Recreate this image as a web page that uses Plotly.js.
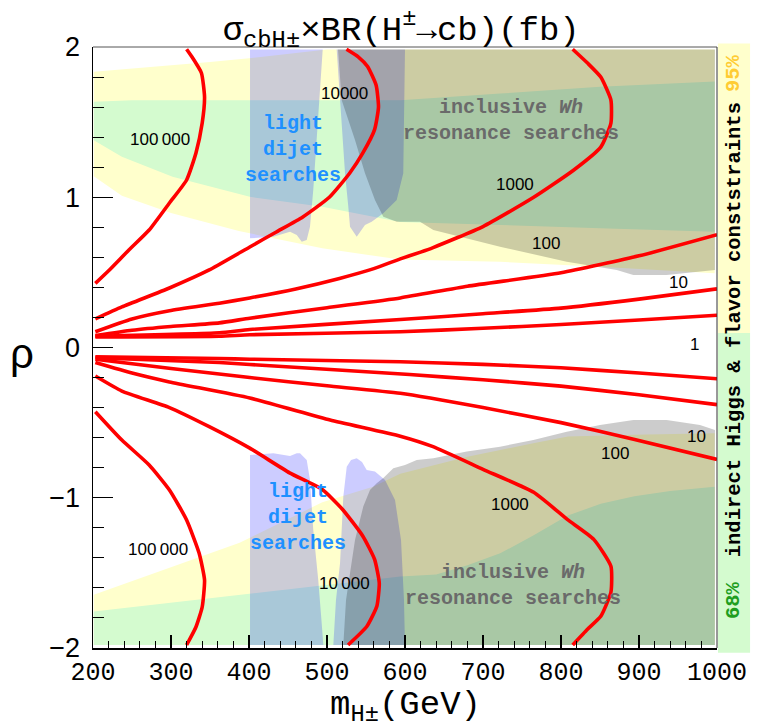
<!DOCTYPE html>
<html>
<head>
<meta charset="utf-8">
<script src="https://cdn.plot.ly/plotly-3.0.1.min.js"></script>
<style>
  html, body { margin: 0; padding: 0; background: #ffffff; }
  #chart { width: 757px; height: 727px; }
</style>
</head>
<body>
<div id="chart"></div>
<script>
// ---- Cross-section contours (fb) in the (m_H±, rho) plane ----
// upper half (rho > 0)
const m1e5Up = [203, 221, 246, 272, 298, 320, 332, 340, 343, 339, 327, 320];
const r1e5Up = [0.427, 0.516, 0.649, 0.782, 0.962, 1.115, 1.295, 1.494, 1.667, 1.827, 1.933, 1.985];
const m1e4Up = [203, 237, 298, 349, 401, 435, 469, 503, 529, 546, 561, 566, 563, 552, 540, 525];
const r1e4Up = [0.19, 0.27, 0.396, 0.516, 0.669, 0.769, 0.869, 1.0, 1.16, 1.295, 1.45, 1.6, 1.745, 1.87, 1.935, 1.985];
const m1e3Up = [203, 250, 298, 362, 401, 460, 516, 560, 594, 620, 636, 700, 765, 816, 851, 864, 864, 851, 834, 815];
const r1e3Up = [0.105, 0.19, 0.245, 0.295, 0.33, 0.39, 0.46, 0.525, 0.59, 0.635, 0.665, 0.805, 1.0, 1.18, 1.334, 1.494, 1.647, 1.8, 1.893, 1.985];
const m1e2Up = [203, 250, 300, 362, 401, 500, 594, 680, 800, 900, 1000];
const r1e2Up = [0.08, 0.115, 0.14, 0.164, 0.195, 0.265, 0.33, 0.408, 0.497, 0.61, 0.751];
const m1e1Up = [203, 362, 401, 594, 700, 800, 900, 1000];
const r1e1Up = [0.075, 0.098, 0.12, 0.186, 0.225, 0.262, 0.322, 0.39];
const m1e0Up = [203, 362, 401, 594, 700, 800, 900, 1000];
const r1e0Up = [0.07, 0.075, 0.085, 0.105, 0.128, 0.153, 0.183, 0.215];
// lower half (rho < 0)
const m1e0Lo = [203, 362, 401, 594, 700, 800, 900, 1000];
const r1e0Lo = [-0.062, -0.073, -0.078, -0.095, -0.112, -0.135, -0.17, -0.208];
const m1e1Lo = [203, 362, 401, 606, 700, 800, 900, 1000];
const r1e1Lo = [-0.068, -0.1, -0.113, -0.18, -0.215, -0.257, -0.315, -0.38];
const m1e2Lo = [203, 300, 401, 500, 594, 700, 800, 893, 1000];
const r1e2Lo = [-0.078, -0.14, -0.2, -0.255, -0.305, -0.4, -0.5, -0.61, -0.745];
const m1e3Lo = [203, 250, 298, 401, 504, 594, 636, 700, 765, 808, 842, 864, 864, 851, 834, 815];
const r1e3Lo = [-0.1, -0.17, -0.229, -0.336, -0.482, -0.59, -0.66, -0.811, -0.964, -1.144, -1.277, -1.456, -1.629, -1.789, -1.875, -1.98];
const m1e4Lo = [203, 237, 298, 349, 401, 452, 494, 520, 546, 561, 567, 564, 551, 527];
const r1e4Lo = [-0.19, -0.29, -0.4, -0.527, -0.67, -0.834, -0.945, -1.078, -1.256, -1.41, -1.566, -1.72, -1.857, -1.98];
const m1e5Lo = [203, 237, 272, 298, 320, 336, 343, 340, 332, 320];
const r1e5Lo = [-0.427, -0.616, -0.782, -0.948, -1.148, -1.368, -1.547, -1.727, -1.86, -1.98];

// ---- Indirect Higgs & flavour constraints ----
const shadeM = [201, 997];          // mass extent of the shaded regions
const shadeRho = [-1.98, 1.984];    // rho extent of the shaded regions
// 95% band, rho > 0
const y95UpTopM = [201, 250, 300, 350, 400, 450, 500, 997];
const y95UpTopR = [1.835, 1.855, 1.875, 1.9, 1.925, 1.955, 1.984, 1.984];
const y95UpBotM = [201, 237, 300, 387, 494, 594, 722, 850, 997];
const y95UpBotR = [1.14, 1.01, 0.895, 0.775, 0.66, 0.585, 0.57, 0.538, 0.494];
// 68% band, rho > 0
const g68UpTopM = [201, 250, 400, 594, 722, 850, 997];
const g68UpTopR = [1.635, 1.645, 1.646, 1.646, 1.69, 1.735, 1.77];
const g68UpBotM = [201, 237, 302, 401, 494, 594, 722, 850, 997];
const g68UpBotR = [1.38, 1.27, 1.137, 1.003, 0.937, 0.836, 0.815, 0.794, 0.77];
// 95% band, rho < 0 (edge nearest rho = 0)
const y95LoM = [201, 300, 388, 494, 559, 594, 680, 766, 809, 894, 997];
const y95LoR = [-1.646, -1.46, -1.3, -1.03, -0.926, -0.84, -0.727, -0.636, -0.593, -0.58, -0.571];
// 68% band, rho < 0
const g68LoM = [201, 401, 594, 640, 680, 722, 765, 808, 851, 894, 940, 997];
const g68LoR = [-1.757, -1.636, -1.524, -1.51, -1.45, -1.37, -1.25, -1.12, -1.04, -0.99, -0.955, -0.926];

// ---- Light dijet search exclusions ----
const dj1UpM = [401.3, 401.3, 431.2, 452.6, 461.2, 467.6, 474, 478.2, 482.4, 486.8, 491, 494.5];
const dj1UpR = [1.984, 0.727, 0.737, 0.77, 0.749, 0.704, 0.715, 0.804, 1.048, 1.381, 1.713, 1.984];
const dj2UpM = [512.4, 516.7, 523.1, 527.3, 529.5, 538.1, 548.7, 557.3, 572.2, 589.4, 597.8, 600];
const dj2UpR = [1.984, 1.65, 1.16, 0.937, 0.804, 0.737, 0.815, 0.837, 0.893, 0.981, 1.159, 1.984];
const dj1LoM = [401.3, 401.3, 431.2, 452.6, 461.2, 465.4, 474, 478.2, 482.4, 488.8, 493.2, 495.3];
const dj1LoR = [-1.98, -0.715, -0.704, -0.722, -0.704, -0.704, -0.748, -0.882, -1.214, -1.547, -1.835, -1.98];
const dj2LoM = [508.1, 511.5, 516.7, 520.9, 525.3, 530.8, 538.1, 544.9, 550.9, 561.5, 574.4, 587.2, 594.9, 598.7, 600];
const dj2LoR = [-1.98, -1.68, -1.436, -0.993, -0.793, -0.748, -0.737, -0.762, -0.815, -0.826, -0.882, -1.015, -1.281, -1.68, -1.98];

// ---- Inclusive Wh resonance search exclusions ----
const whUpM = [514.1, 997.4, 997.4, 935.5, 892.7, 871.4, 807.3, 721.8, 636.3, 619.2, 589.4, 572.2, 561.5, 548.7, 535.9, 518.8];
const whUpR = [1.984, 1.984, 0.516, 0.482, 0.482, 0.516, 0.571, 0.671, 0.782, 0.837, 0.837, 0.87, 0.981, 1.159, 1.381, 1.647];
const whLoM = [520.9, 524.4, 529.5, 535.9, 546.5, 555.1, 563.7, 572.2, 585, 600, 615, 636.3, 679.1, 721.8, 764.5, 807.3, 850, 892.7, 935.5, 978.2, 997.4, 997.4];
const whLoR = [-1.98, -1.68, -1.502, -1.281, -1.059, -0.948, -0.904, -0.868, -0.804, -0.782, -0.748, -0.737, -0.693, -0.66, -0.615, -0.56, -0.516, -0.482, -0.482, -0.516, -0.549, -1.98];

// ---- Contour labels ----
const labelText = ['100\u2009000', '10000', '1000', '100', '10', '1', '10', '100', '1000', '10\u2009000', '100\u2009000'];
const labelM    = [285.9, 521.8, 741, 780.4, 950.4, 970.9, 974, 869.2, 734.6, 523, 283.7];
const labelRho  = [1.385, 1.691, 1.088, 0.693, 0.434, 0.017, -0.589, -0.704, -1.048, -1.569, -1.347];

// axis ticks
const xTickVals = [200, 300, 400, 500, 600, 700, 800, 900, 1000];
const yTickVals = [-2, -1, 0, 1, 2];

const YELLOW = '#ffffcc';
const GREEN = '#d4fbcf';
const BLUE_SHADE = 'rgba(0,0,255,0.2)';
const GREY_SHADE = 'rgba(0,0,0,0.2)';
const MONO = 'Liberation Mono, Courier New, monospace';
const SANS = 'Liberation Sans, Arial, sans-serif';

function polygon(xs, ys, color) {
  return {
    type: 'scatter', mode: 'lines', x: xs, y: ys,
    fill: 'toself', fillcolor: color,
    line: { width: 0, color: 'rgba(0,0,0,0)' },
    hoverinfo: 'skip', showlegend: false
  };
}
function bandBetween(mTop, rTop, mBot, rBot, color) {
  return polygon(mTop.concat(mBot.slice().reverse()), rTop.concat(rBot.slice().reverse()), color);
}
function bandToFloor(mEdge, rEdge, color) {
  const xs = mEdge.concat([shadeM[1], shadeM[0]]);
  const ys = rEdge.concat([shadeRho[0], shadeRho[0]]);
  return polygon(xs, ys, color);
}
function contour(ms, rs) {
  return {
    type: 'scatter', mode: 'lines', x: ms, y: rs,
    line: { color: '#ff0000', width: 3.6, shape: 'spline', smoothing: 0.5 },
    hoverinfo: 'skip', showlegend: false
  };
}

const traces = [
  bandBetween(y95UpTopM, y95UpTopR, y95UpBotM, y95UpBotR, YELLOW),
  bandBetween(g68UpTopM, g68UpTopR, g68UpBotM, g68UpBotR, GREEN),
  bandToFloor(y95LoM, y95LoR, YELLOW),
  bandToFloor(g68LoM, g68LoR, GREEN),
  polygon(dj1UpM, dj1UpR, BLUE_SHADE),
  polygon(dj2UpM, dj2UpR, BLUE_SHADE),
  polygon(dj1LoM, dj1LoR, BLUE_SHADE),
  polygon(dj2LoM, dj2LoR, BLUE_SHADE),
  polygon(whUpM, whUpR, GREY_SHADE),
  polygon(whLoM, whLoR, GREY_SHADE),
  contour(m1e5Up, r1e5Up), contour(m1e4Up, r1e4Up), contour(m1e3Up, r1e3Up),
  contour(m1e2Up, r1e2Up), contour(m1e1Up, r1e1Up), contour(m1e0Up, r1e0Up),
  contour(m1e0Lo, r1e0Lo), contour(m1e1Lo, r1e1Lo), contour(m1e2Lo, r1e2Lo),
  contour(m1e3Lo, r1e3Lo), contour(m1e4Lo, r1e4Lo), contour(m1e5Lo, r1e5Lo)
];

const annotations = [];
labelText.forEach((t, i) => {
  annotations.push({
    x: labelM[i], y: labelRho[i], xref: 'x', yref: 'y', text: t, showarrow: false,
    font: { family: SANS, size: 17, color: '#000000' }, xanchor: 'center', yanchor: 'middle'
  });
});
// search-region captions
[[456, 1.316], [463, -1.132]].forEach(p => annotations.push({
  x: p[0], y: p[1], xref: 'x', yref: 'y', showarrow: false,
  xanchor: 'center', yanchor: 'middle',
  text: '<b>light<br>dijet<br>searches</b>',
  font: { family: MONO, size: 20, color: '#1e90ff' }, align: 'center'
}));
[[735.5, 1.509], [738, -1.581]].forEach(p => annotations.push({
  x: p[0], y: p[1], xref: 'x', yref: 'y', showarrow: false,
  xanchor: 'center', yanchor: 'middle',
  text: '<b>inclusive <i>Wh</i><br>resonance searches</b>',
  font: { family: MONO, size: 20, color: '#6a6a6a' }, align: 'center'
}));
// side strip captions
const stripX = 1.0275;
annotations.push({
  xref: 'paper', yref: 'paper', x: stripX, y: 0.529, xanchor: 'center', yanchor: 'middle',
  textangle: -90, showarrow: false,
  text: '<b>indirect Higgs &amp; flavor conststraints</b>',
  font: { family: MONO, size: 20.5, color: '#000000' }
});
annotations.push({
  xref: 'paper', yref: 'paper', x: stripX, y: 0.08, xanchor: 'center', yanchor: 'middle',
  textangle: -90, showarrow: false,
  text: '<b>68%</b>', font: { family: MONO, size: 20.5, color: '#1f9e1f' }
});
annotations.push({
  xref: 'paper', yref: 'paper', x: stripX, y: 0.957, xanchor: 'center', yanchor: 'middle',
  textangle: -90, showarrow: false,
  text: '<b>95%</b>', font: { family: MONO, size: 20.5, color: '#ffcc33' }
});
// axis titles
annotations.push({
  xref: 'paper', yref: 'paper', x: 0.5, y: -0.099, xanchor: 'center', yanchor: 'middle',
  showarrow: false, text: 'm<sub>H±</sub>(GeV)',
  font: { family: MONO, size: 34, color: '#000000' }
});
annotations.push({
  xref: 'paper', yref: 'paper', x: -0.114, y: 0.49, xanchor: 'center', yanchor: 'middle',
  showarrow: false, text: 'ρ',
  font: { family: SANS, size: 42, color: '#000000' }
});

const layout = {
  width: 757, height: 727,
  margin: { l: 93, r: 40, t: 47, b: 79 },
  paper_bgcolor: '#ffffff', plot_bgcolor: '#ffffff',
  showlegend: false,
  title: {
    text: 'σ<sub>cbH±</sub>×BR(H<sup>±</sup>→cb)(fb)',
    font: { family: MONO, size: 34, color: '#000000' },
    x: 0.53, xanchor: 'center', y: 0.962, yanchor: 'middle'
  },
  xaxis: {
    range: [200, 1000], tickvals: xTickVals, ticktext: xTickVals.map(String),
    ticks: 'inside', ticklen: 13, tickwidth: 1.2, tickcolor: '#000000',
    minor: { dtick: 20, tick0: 200, ticks: 'inside', ticklen: 7, tickwidth: 1, tickcolor: '#000000' },
    showline: true, linecolor: '#000000', linewidth: 1.5, mirror: false,
    showgrid: false, zeroline: false, ticklabelstandoff: 0,
    tickfont: { family: MONO, size: 25, color: '#000000' }
  },
  yaxis: {
    range: [-2, 2], tickvals: yTickVals, ticktext: ['\u22122', '\u22121', '0', '1', '2'],
    ticks: 'inside', ticklen: 20, tickwidth: 1.2, tickcolor: '#000000',
    minor: { dtick: 0.2, tick0: 0, ticks: 'inside', ticklen: 11, tickwidth: 1, tickcolor: '#000000' },
    showline: true, linecolor: '#000000', linewidth: 1.5, mirror: false,
    showgrid: false, zeroline: false, ticklabelstandoff: 6,
    tickfont: { family: SANS, size: 27, color: '#000000' }
  },
  shapes: [
    // side strip: 95% (upper) and 68% (lower)
    { type: 'rect', xref: 'paper', yref: 'paper', x0: 1.0016, x1: 1.053, y0: 0.524, y1: 1.006,
      fillcolor: YELLOW, line: { width: 0 }, layer: 'below' },
    { type: 'rect', xref: 'paper', yref: 'paper', x0: 1.0016, x1: 1.053, y0: -0.008, y1: 0.524,
      fillcolor: GREEN, line: { width: 0 }, layer: 'below' },
    // frame top and right
    { type: 'line', xref: 'paper', yref: 'paper', x0: 0, x1: 1, y0: 1, y1: 1,
      line: { color: '#555555', width: 1 } },
    { type: 'line', xref: 'paper', yref: 'paper', x0: 1, x1: 1, y0: 0, y1: 1,
      line: { color: '#333333', width: 1 } }
  ],
  annotations: annotations
};

Plotly.newPlot('chart', traces, layout, { staticPlot: true, displayModeBar: false });
</script>
</body>
</html>
